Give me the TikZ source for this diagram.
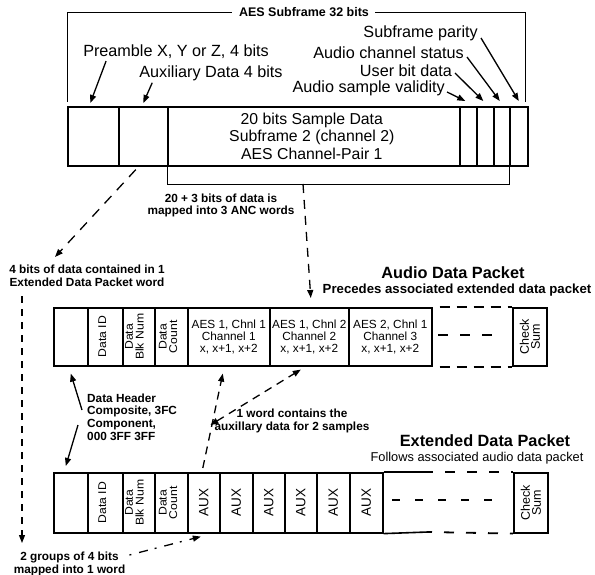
\documentclass[tikz,border=0pt]{standalone}
\usepackage{fontspec}
\setmainfont{Liberation Sans}
\usepackage{graphicx}
\usetikzlibrary{arrows.meta}
\begin{document}
\begin{tikzpicture}[x=1pt,y=-1pt,
  box/.style={draw, line width=1.6pt, inner sep=0pt, anchor=north west},
  lab/.style={inner sep=0pt, font=\fontsize{16.2}{17.5}\selectfont},
  ann/.style={inner sep=0pt, align=center, font=\fontsize{11.8}{12.8}\selectfont\bfseries},
  celltxt/.style={inner sep=0pt, align=center, font=\fontsize{11.8}{12.2}\selectfont},
  rot/.style={inner sep=0pt, rotate=90, font=\fontsize{12.2}{9.8}\selectfont},
  auxt/.style={inner sep=0pt, rotate=90, font=\fontsize{13.5}{14}\selectfont},
  cst/.style={inner sep=0pt, rotate=90, align=center, font=\fontsize{12.5}{11}\selectfont},
  arr/.style={line width=1.3pt, -{Triangle[length=8pt,width=6pt]}},
  darr/.style={arr, dash pattern=on 8pt off 6pt},
  thinl/.style={line width=0.9pt},
  dsh/.style={line width=1.8pt, dash pattern=on 10pt off 7pt, dash phase=10pt}
]
\useasboundingbox (0,0) rectangle (595,575);

% ---------- top subframe ----------
\node[inner sep=0pt, font=\fontsize{12.5}{14}\selectfont\bfseries] (t32) at (304,12) {AES Subframe 32 bits};
\draw[thinl] ([xshift=-7pt]t32.west) -- (67,12) -- (67,102);
\draw[thinl] ([xshift=6pt]t32.east) -- (525,12) -- (525,102);

\node[box, minimum width=51pt, minimum height=59pt] (pre) at (67,106) {};
\node[box, minimum width=49pt, minimum height=59pt] (auxc) at (118,106) {};
\node[box, minimum width=292pt, minimum height=59pt] (sdata) at (167,106) {};
\node[box, minimum width=17pt, minimum height=59pt] (v1) at (459,106) {};
\node[box, minimum width=17pt, minimum height=59pt] (v2) at (476,106) {};
\node[box, minimum width=16pt, minimum height=59pt] (v3) at (493,106) {};
\node[box, minimum width=18pt, minimum height=59pt] (v4) at (509,106) {};
\node[inner sep=0pt, align=center, font=\fontsize{15.8}{17.5}\selectfont] (sdt) at ([xshift=-2pt]sdata.center) {20 bits Sample Data\\Subframe 2 (channel 2)\\AES Channel-Pair 1};

\node[lab] (lpre) at (176,52) {Preamble X, Y or Z, 4 bits};
\node[lab] (laux) at (211,73) {Auxiliary Data 4 bits};
\node[lab, anchor=east] (lpar) at (478,33) {Subframe parity};
\node[lab, anchor=east] (lcs) at (464,53) {Audio channel status};
\node[lab, anchor=east] (lub) at (452,71) {User bit data};
\node[lab, anchor=east] (lval) at (445,88) {Audio sample validity};

\draw[arr] ([xshift=23pt,yshift=-2pt]lpre.south west) -- ([xshift=-3pt,yshift=3pt]pre.north);
\draw[arr] ([xshift=13pt,yshift=-2pt]laux.south west) -- ([yshift=3pt]auxc.north);
\draw[arr] ([xshift=3pt,yshift=-5pt]lpar.east) -- ([yshift=5pt]v4.north);
\draw[arr] ([xshift=3pt,yshift=-4pt]lcs.east) -- ([xshift=-2pt,yshift=5pt]v3.north);
\draw[arr] ([xshift=3pt,yshift=-2pt]lub.east) -- ([xshift=-2pt,yshift=5pt]v2.north);
\draw[arr] ([xshift=2pt,yshift=-4pt]lval.east) -- ([xshift=-3pt,yshift=5pt]v1.north);

% bracket under sample data
\draw[thinl] (sdata.south west) -- (167,184) -- (509,184) -- (v4.south west);
\coordinate (bm) at (303,184);
\node[ann] (l23) at (221,205.5) {20 + 3 bits of data is\\mapped into 3 ANC words};

% ---------- audio data packet ----------
\node[box, minimum width=34pt, minimum height=58pt] (a0) at (53,307) {};
\node[box, minimum width=35pt, minimum height=58pt] (a1) at (87,307) {};
\node[box, minimum width=32pt, minimum height=58pt] (a2) at (122,307) {};
\node[box, minimum width=33pt, minimum height=58pt] (a3) at (154,307) {};
\node[box, minimum width=82pt, minimum height=58pt] (a4) at (187,307) {};
\node[box, minimum width=79pt, minimum height=58pt] (a5) at (269,307) {};
\node[box, minimum width=83pt, minimum height=58pt] (a6) at (348,307) {};
\node[box, minimum width=34pt, minimum height=58pt] (acs) at (512,307) {};

\node[rot] at ([xshift=-3pt]a1.center) {\scalebox{1}[0.92]{Data ID}};
\node[rot] at ([xshift=-3pt]a2.center) {\scalebox{1}[0.92]{\begin{tabular}{@{}c@{}}Data\\Blk Num\end{tabular}}};
\node[rot] at ([xshift=-2pt]a3.center) {\scalebox{1}[0.92]{\begin{tabular}{@{}c@{}}Data\\Count\end{tabular}}};
\node[celltxt] at (a4.center) {AES 1, Chnl 1\\Channel 1\\x, x+1, x+2};
\node[celltxt] at (a5.center) {AES 1, Chnl 2\\Channel 2\\x, x+1, x+2};
\node[celltxt] at (a6.center) {AES 2, Chnl 1\\Channel 3\\x, x+1, x+2};
\node[cst] at (acs.center) {Check\\Sum};

\draw[dsh] (a6.north east) -- (acs.north west);
\draw[dsh] (a6.south east) -- (acs.south west);
\draw[line width=1.8pt, dash pattern=on 10pt off 12pt] (438,335) -- (500,335);

\node[inner sep=0pt, font=\fontsize{16.3}{18}\selectfont\bfseries] (tadp) at (453,273) {Audio Data Packet};
\node[inner sep=0pt, font=\fontsize{13.2}{15}\selectfont\bfseries] (sadp) at (457,290) {Precedes associated extended data packet};

\draw[darr, dash pattern=on 9pt off 7pt] (bm) -- ([xshift=1.5pt,yshift=9pt]a5.north);

% ---------- extended data packet ----------
\node[box, minimum width=34pt, minimum height=60pt] (e0) at (53,472) {};
\node[box, minimum width=35pt, minimum height=60pt] (e1) at (87,472) {};
\node[box, minimum width=32pt, minimum height=60pt] (e2) at (122,472) {};
\node[box, minimum width=33pt, minimum height=60pt] (e3) at (154,472) {};
\node[box, minimum width=32pt, minimum height=60pt] (x1) at (187,472) {};
\node[box, minimum width=33pt, minimum height=60pt] (x2) at (219,472) {};
\node[box, minimum width=32pt, minimum height=60pt] (x3) at (252,472) {};
\node[box, minimum width=32pt, minimum height=60pt] (x4) at (284,472) {};
\node[box, minimum width=33pt, minimum height=60pt] (x5) at (316,472) {};
\node[box, minimum width=33pt, minimum height=60pt] (x6) at (349,472) {};
\node[box, minimum width=34pt, minimum height=60pt] (ecs) at (513,472) {};

\node[rot] at ([xshift=-3pt]e1.center) {\scalebox{1}[0.92]{Data ID}};
\node[rot] at ([xshift=-3pt]e2.center) {\scalebox{1}[0.92]{\begin{tabular}{@{}c@{}}Data\\Blk Num\end{tabular}}};
\node[rot] at ([xshift=-2pt]e3.center) {\scalebox{1}[0.92]{\begin{tabular}{@{}c@{}}Data\\Count\end{tabular}}};
\foreach \c in {x1,x2,x3,x4,x5,x6} {\node[auxt] at (\c.center) {AUX};}
\node[cst] at (ecs.center) {Check\\Sum};

\coordinate (etr) at (433,472);
\coordinate (ebr) at (428,532);
\draw[line width=1.6pt] (x6.north east) -- (etr);
\draw[line width=1.6pt] (x6.south east) -- (ebr);
\draw[line width=1.8pt, dash pattern=on 10pt off 12pt, dash phase=10pt] (etr) -- (ecs.north west);
\draw[line width=1.8pt, dash pattern=on 10pt off 12pt, dash phase=6pt] (ebr) -- (ecs.south west);
\draw[line width=1.8pt, dash pattern=on 8pt off 15pt] (392,500) -- (500,500);

\node[inner sep=0pt, font=\fontsize{16.3}{18}\selectfont\bfseries] (tedp) at (485,441) {Extended Data Packet};
\node[inner sep=0pt, font=\fontsize{12.8}{14}\selectfont] (sedp) at (477,458) {Follows associated audio data packet};

% ---------- annotations ----------
\node[ann] (l4b) at (87,276) {4 bits of data contained in 1\\Extended Data Packet word};
\coordinate (l4t) at (55,257);
\draw[darr, dash pattern=on 10pt off 8pt] ([xshift=-7.5pt,yshift=-3pt]auxc.south) -- (l4t);

\coordinate (vtop) at (22,296);
\coordinate (vbot) at (22,543);
\draw[darr, dash pattern=on 7pt off 6pt] (vtop) -- (vbot);

\node[ann] (l2g) at (69.5,564) {2 groups of 4 bits\\mapped into 1 word};
\draw[darr, dash pattern=on 2pt off 8pt on 9pt off 7pt] ([xshift=4pt,yshift=9pt]l2g.east) -- ([xshift=-3pt,yshift=-3pt]x1.south);

\node[ann, align=left, anchor=west] (dh) at (87,417) {Data Header\\Composite, 3FC\\Component,\\000 3FF 3FF};
\draw[arr] ([xshift=-5pt,yshift=7pt]dh.west) -- ([yshift=-7pt]a0.south);
\draw[arr] ([xshift=-9pt,yshift=-8pt]dh.west) -- ([xshift=-5pt,yshift=6pt]e0.north);

\node[ann] (l1w) at (292,421) {1 word contains the\\auxillary data for 2 samples};
\draw[darr] ([xshift=-1pt,yshift=4pt]x1.north) -- ([xshift=-6pt,yshift=-7pt]a4.south);
\draw[darr, {Triangle[length=8pt,width=6pt]}-{Triangle[length=8pt,width=6pt]}] ([xshift=-4pt,yshift=-4pt]l1w.west) -- ([xshift=-8.5pt,yshift=-3pt]a5.south);
\end{tikzpicture}
\end{document}
